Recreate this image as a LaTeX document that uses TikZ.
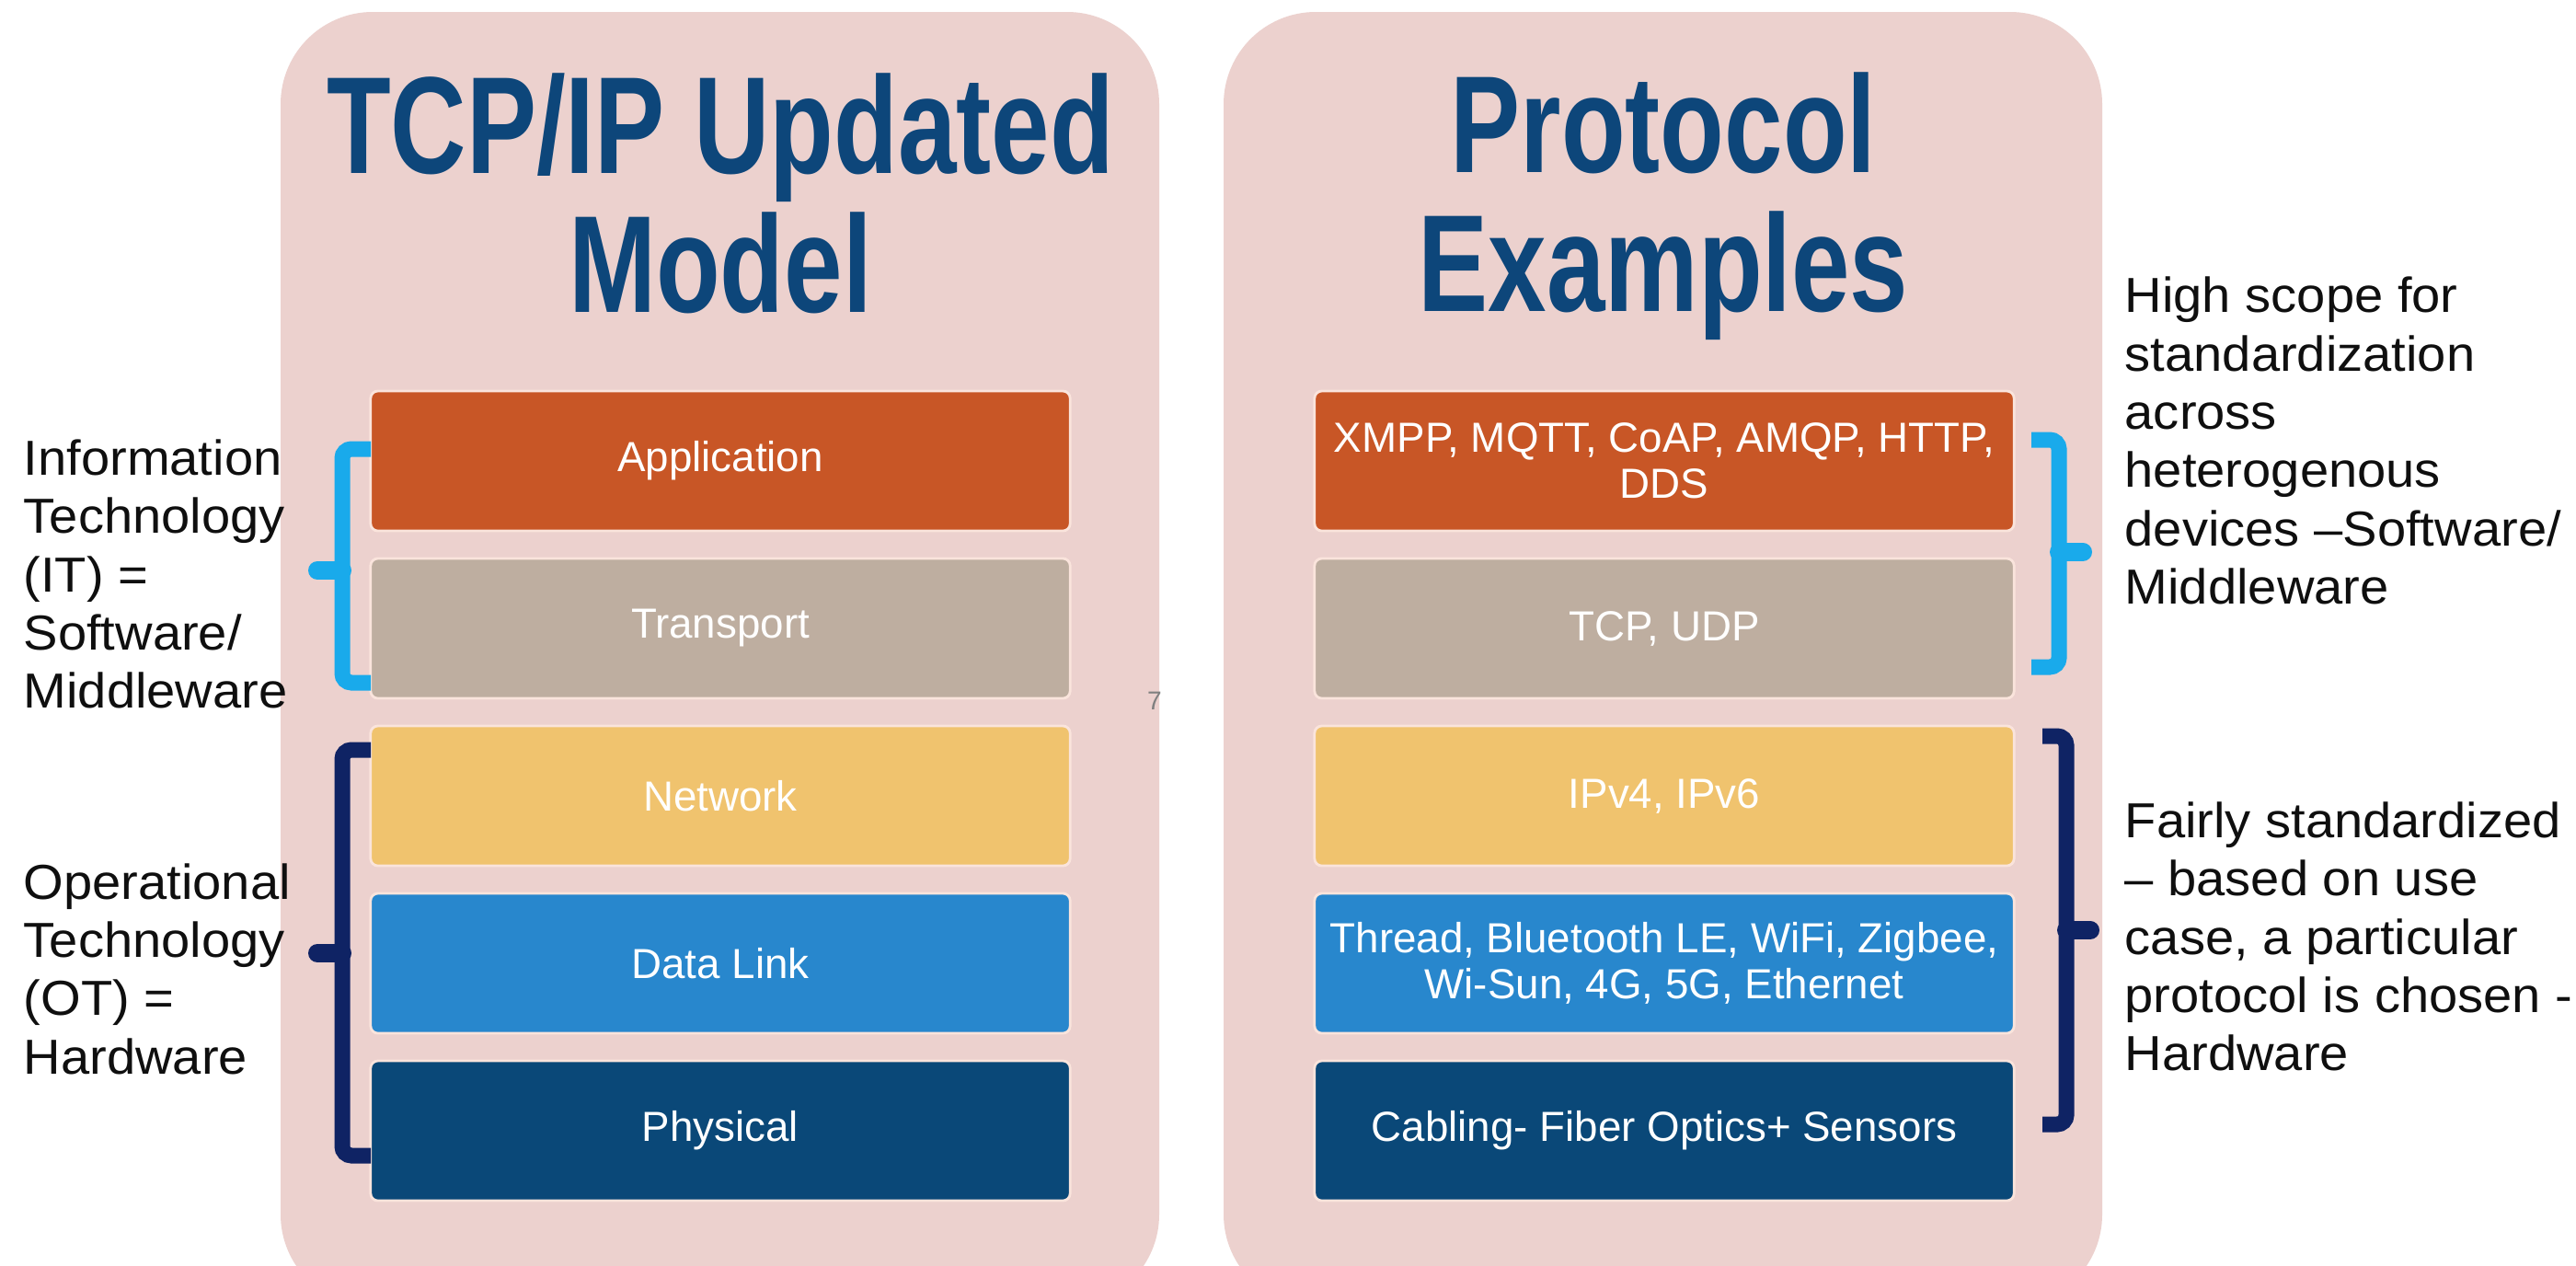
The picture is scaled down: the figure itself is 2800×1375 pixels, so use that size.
\documentclass[tikz,border=0pt]{standalone}
\usepackage{fontspec}
\setmainfont{Liberation Sans}
\newfontfamily\titlefont{Liberation Sans}[FakeStretch=0.76]
\newfontfamily\sidefont{Liberation Sans}[FakeStretch=1.05]
\usepackage{tikz}

\definecolor{panelbg}{RGB}{236,209,206}
\definecolor{titleblue}{RGB}{13,70,122}
\definecolor{boxedge}{RGB}{250,228,220}
\definecolor{appcol}{RGB}{200,86,38}
\definecolor{transcol}{RGB}{190,174,160}
\definecolor{netcol}{RGB}{240,195,110}
\definecolor{linkcol}{RGB}{40,135,205}
\definecolor{phycol}{RGB}{10,72,120}
\definecolor{itblue}{RGB}{25,170,235}
\definecolor{otnavy}{RGB}{15,35,100}
\definecolor{labeltext}{RGB}{15,15,15}

\tikzstyle{panel} = [fill=panelbg, rounded corners=1cm]
\tikzstyle{heading} = [titleblue, align=center, inner sep=0pt, font=\titlefont\bfseries\fontsize{42.7}{43}\selectfont]
\tikzstyle{layerbox} = [draw=boxedge, line width=0.8pt, rounded corners=0.08cm, minimum width=7.6cm, minimum height=1.52cm, inner sep=0pt, text=white, align=center, font=\fontsize{13}{14.2}\selectfont]
\tikzstyle{sidetext} = [labeltext, anchor=west, align=left, inner sep=0pt, font=\sidefont\fontsize{15.2}{18}\selectfont]
\tikzstyle{itbrace} = [itblue, line width=0.17cm, rounded corners=0.1cm]
\tikzstyle{otbrace} = [otnavy, line width=0.17cm, rounded corners=0.1cm]
\tikzstyle{nub} = [line cap=round, line width=0.2cm]

\begin{document}
\begin{tikzpicture}[x=0.01cm, y=-0.01cm]
\useasboundingbox (0,0) rectangle (2800,1375);
\fill[white] (0,0) rectangle (2800,1375);
\clip (0,0) rectangle (2800,1375);

% the two pink panels
\fill[panel] (305,13) rectangle (1260,1420);
\fill[panel] (1330,13) rectangle (2285,1420);

% headings
\node[heading] (modeltitle) at (783,210) {TCP/IP Updated\\Model};
\node[heading] (exampletitle) at (1808,224) {Protocol\\Examples};

% layers of the model
\node[layerbox, fill=appcol] (app) at (783,501) {Application};
\node[layerbox, fill=transcol] (trans) at (783,683) {Transport};
\node[layerbox, fill=netcol] (net) at (783,865) {Network};
\node[layerbox, fill=linkcol] (link) at (783,1047) {Data Link};
\node[layerbox, fill=phycol] (phy) at (783,1229) {Physical};

% protocols for each layer
\node[layerbox, fill=appcol] (appex) at (1809,501) {XMPP, MQTT, CoAP, AMQP, HTTP,\\DDS};
\node[layerbox, fill=transcol] (transex) at (1809,683) {TCP, UDP};
\node[layerbox, fill=netcol] (netex) at (1809,865) {IPv4, IPv6};
\node[layerbox, fill=linkcol] (linkex) at (1809,1047) {Thread, Bluetooth LE, WiFi, Zigbee,\\Wi-Sun, 4G, 5G, Ethernet};
\node[layerbox, fill=phycol] (phyex) at (1809,1229) {Cabling- Fiber Optics+ Sensors};

% left brackets
\draw[itbrace] (403,488) -- (372,488) -- (372,742) -- (403,742);
\draw[itbrace, nub] (372,620) -- (345,620);
\draw[otbrace] (403,815) -- (372,815) -- (372,1256) -- (403,1256);
\draw[otbrace, nub] (372,1036) -- (345,1036);

% right brackets
\draw[itbrace] (2208,478) -- (2238,478) -- (2238,725) -- (2208,725);
\draw[itbrace, nub] (2238,600) -- (2264,600);
\draw[otbrace] (2220,800) -- (2246,800) -- (2246,1222) -- (2220,1222);
\draw[otbrace, nub] (2246,1011) -- (2272,1011);

% side notes
\node[sidetext] (itnote) at (25,624) {Information\\Technology\\(IT) =\\Software/\\Middleware};
\node[sidetext] (otnote) at (25,1053) {Operational\\Technology\\(OT) =\\Hardware};
\node[sidetext] (swnote) at (2309,479) {High scope for\\standardization\\across\\heterogenous\\devices –Software/\\Middleware};
\node[sidetext] (hwnote) at (2309,1018) {Fairly standardized\\– based on use\\case, a particular\\protocol is chosen -\\Hardware};

% slide number
\node[gray, font=\fontsize{8}{9}\selectfont] (pagenum) at (1255,762) {7};
\end{tikzpicture}
\end{document}
